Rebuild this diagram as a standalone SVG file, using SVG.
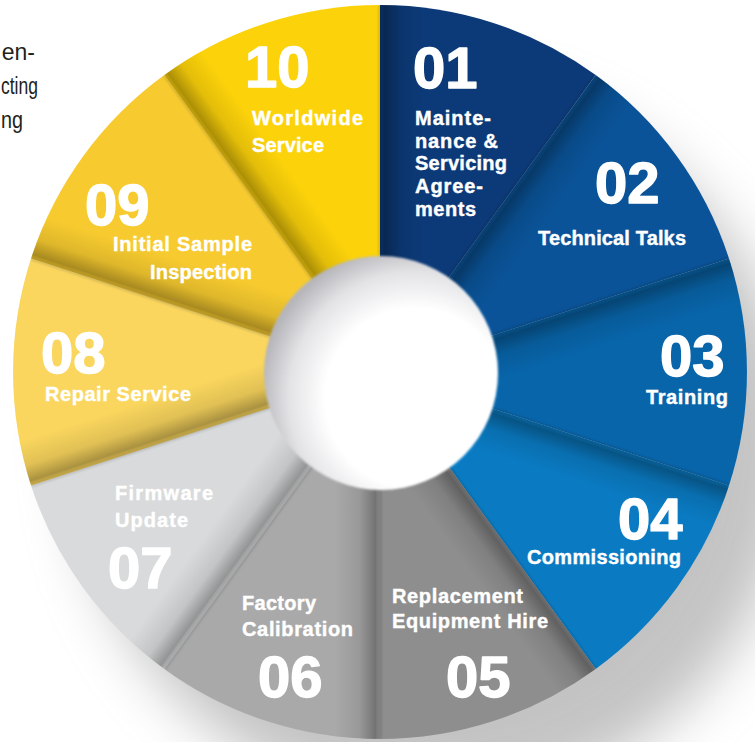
<svg xmlns="http://www.w3.org/2000/svg" xmlns:xlink="http://www.w3.org/1999/xlink" width="755" height="742" viewBox="0 0 755 742">
<style>
.num{font-family:"Liberation Sans",Arial,sans-serif;font-weight:bold;font-size:58px;fill:#ffffff;stroke:#ffffff;stroke-width:1.4;stroke-linejoin:round}
.lbl{font-family:"Liberation Sans",Arial,sans-serif;font-weight:bold;font-size:20px;fill:#ffffff;stroke:#ffffff;stroke-width:0.4}
.side{font-family:"Liberation Sans",Arial,sans-serif;font-size:23px;fill:#231f20}
.crease{stroke:#000;stroke-opacity:0.28;stroke-width:1.6;fill:none}
</style>
<defs>
<filter id="bigblur" x="-30%" y="-30%" width="160%" height="160%"><feGaussianBlur stdDeviation="28"/></filter>
<filter id="soft" x="-10%" y="-10%" width="120%" height="120%"><feGaussianBlur stdDeviation="1.2"/></filter>
<filter id="lineblur" x="-20%" y="-20%" width="140%" height="140%"><feGaussianBlur stdDeviation="1.5"/></filter>
<linearGradient id="shBase" gradientUnits="userSpaceOnUse">
<stop offset="0" stop-color="#000" stop-opacity="0.12"/>
<stop offset="0.1" stop-color="#000" stop-opacity="0.32"/>
<stop offset="0.45" stop-color="#000" stop-opacity="0.1"/>
<stop offset="1" stop-color="#000" stop-opacity="0"/>
</linearGradient>
<linearGradient id="sh01" href="#shBase" xlink:href="#shBase" x1="380" y1="372" x2="425" y2="372"/>
<linearGradient id="sh02" href="#shBase" xlink:href="#shBase" x1="380" y1="372" x2="416.4" y2="398.5"/>
<linearGradient id="sh03" href="#shBase" xlink:href="#shBase" x1="380" y1="372" x2="393.9" y2="414.8"/>
<linearGradient id="sh04" href="#shBase" xlink:href="#shBase" x1="380" y1="372" x2="366.1" y2="414.8"/>
<linearGradient id="sh05" href="#shBase" xlink:href="#shBase" x1="380" y1="372" x2="343.6" y2="398.5"/>
<linearGradient id="sh06" href="#shBase" xlink:href="#shBase" x1="380" y1="372" x2="335" y2="372"/>
<linearGradient id="sh07" href="#shBase" xlink:href="#shBase" x1="380" y1="372" x2="343.6" y2="345.5"/>
<linearGradient id="sh08" href="#shBase" xlink:href="#shBase" x1="380" y1="372" x2="366.1" y2="329.2"/>
<linearGradient id="sh09" href="#shBase" xlink:href="#shBase" x1="380" y1="372" x2="393.9" y2="329.2"/>
<linearGradient id="sh10" href="#shBase" xlink:href="#shBase" x1="380" y1="372" x2="416.4" y2="345.5"/>
<radialGradient id="holeGrad" gradientUnits="userSpaceOnUse" cx="415" cy="398" r="155">
<stop offset="0" stop-color="#ffffff"/>
<stop offset="0.58" stop-color="#ffffff"/>
<stop offset="0.82" stop-color="#e2e2e5"/>
<stop offset="1" stop-color="#b6b6bb"/>
</radialGradient>
<clipPath id="wheelClip"><circle cx="380" cy="372" r="367"/></clipPath>
</defs>

<rect width="755" height="742" fill="#ffffff"/>
<circle cx="435" cy="445" r="360" fill="#888888" opacity="0.5" filter="url(#bigblur)"/>

<g id="side-text">
<text class="side" x="35" y="60" text-anchor="end">en-</text>
<text class="side" x="1" y="94" textLength="37" lengthAdjust="spacingAndGlyphs">cting</text>
<text class="side" x="1" y="128" textLength="22" lengthAdjust="spacingAndGlyphs">ng</text>
</g>

<g id="seg01">
<path d="M380 372 L380 5 A367 367 0 0 1 595.7 75.1 Z" fill="#0c3a78"/>
<path d="M380 372 L380 5 A367 367 0 0 1 595.7 75.1 Z" fill="url(#sh01)"/>
</g>
<g id="seg02">
<path d="M380 372 L595.7 75.1 A367 367 0 0 1 729 258.6 Z" fill="#0a5398"/>
<path d="M380 372 L595.7 75.1 A367 367 0 0 1 729 258.6 Z" fill="url(#sh02)"/>
</g>
<g id="seg03">
<path d="M380 372 L729 258.6 A367 367 0 0 1 729 485.4 Z" fill="#0865aa"/>
<path d="M380 372 L729 258.6 A367 367 0 0 1 729 485.4 Z" fill="url(#sh03)"/>
</g>
<g id="seg04">
<path d="M380 372 L729 485.4 A367 367 0 0 1 595.7 668.9 Z" fill="#0a7bc3"/>
<path d="M380 372 L729 485.4 A367 367 0 0 1 595.7 668.9 Z" fill="url(#sh04)"/>
</g>
<g id="seg05">
<path d="M380 372 L595.7 668.9 A367 367 0 0 1 380 739 Z" fill="#8e8e8e"/>
<path d="M380 372 L595.7 668.9 A367 367 0 0 1 380 739 Z" fill="url(#sh05)"/>
</g>
<g id="seg06">
<path d="M380 372 L380 739 A367 367 0 0 1 164.3 668.9 Z" fill="#a9a9a9"/>
<path d="M380 372 L380 739 A367 367 0 0 1 164.3 668.9 Z" fill="url(#sh06)"/>
</g>
<g id="seg07">
<path d="M380 372 L164.3 668.9 A367 367 0 0 1 31 485.4 Z" fill="#d9dadb"/>
<path d="M380 372 L164.3 668.9 A367 367 0 0 1 31 485.4 Z" fill="url(#sh07)"/>
</g>
<g id="seg08">
<path d="M380 372 L31 485.4 A367 367 0 0 1 31 258.6 Z" fill="#fad65e"/>
<path d="M380 372 L31 485.4 A367 367 0 0 1 31 258.6 Z" fill="url(#sh08)"/>
</g>
<g id="seg09">
<path d="M380 372 L31 258.6 A367 367 0 0 1 164.3 75.1 Z" fill="#f7cb2f"/>
<path d="M380 372 L31 258.6 A367 367 0 0 1 164.3 75.1 Z" fill="url(#sh09)"/>
</g>
<g id="seg10">
<path d="M380 372 L164.3 75.1 A367 367 0 0 1 380 5 Z" fill="#fcd20a"/>
<path d="M380 372 L164.3 75.1 A367 367 0 0 1 380 5 Z" fill="url(#sh10)"/>
</g>

<g id="creases" clip-path="url(#wheelClip)" filter="url(#lineblur)">
<line class="crease" x1="380" y1="372" x2="380" y2="5"/>
<line class="crease" x1="380" y1="372" x2="595.7" y2="75.1"/>
<line class="crease" x1="380" y1="372" x2="729" y2="258.6"/>
<line class="crease" x1="380" y1="372" x2="729" y2="485.4"/>
<line class="crease" x1="380" y1="372" x2="595.7" y2="668.9"/>
<line class="crease" x1="380" y1="372" x2="380" y2="739"/>
<line class="crease" x1="380" y1="372" x2="164.3" y2="668.9"/>
<line class="crease" x1="380" y1="372" x2="31" y2="485.4"/>
<line class="crease" x1="380" y1="372" x2="31" y2="258.6"/>
<line class="crease" x1="380" y1="372" x2="164.3" y2="75.1"/>
</g>

<g id="hole">
<circle cx="381" cy="373" r="117" fill="url(#holeGrad)" filter="url(#soft)"/>
</g>

<g id="label01">
<text class="num" x="413" y="88">01</text>
<text class="lbl" x="415" y="125" textLength="76">Mainte-</text>
<text class="lbl" x="415" y="148" textLength="83">nance &amp;</text>
<text class="lbl" x="415" y="170" textLength="92">Servicing</text>
<text class="lbl" x="415" y="193" textLength="68">Agree-</text>
<text class="lbl" x="415" y="216" textLength="61">ments</text>
</g>
<g id="label02">
<text class="num" x="595" y="203">02</text>
<text class="lbl" x="538" y="245" textLength="148">Technical Talks</text>
</g>
<g id="label03">
<text class="num" x="660" y="376">03</text>
<text class="lbl" x="646" y="404" textLength="82">Training</text>
</g>
<g id="label04">
<text class="num" x="618" y="539">04</text>
<text class="lbl" x="527" y="564" textLength="154">Commissioning</text>
</g>
<g id="label05">
<text class="lbl" x="392" y="603" textLength="131">Replacement</text>
<text class="lbl" x="392" y="628" textLength="156">Equipment Hire</text>
<text class="num" x="446" y="697">05</text>
</g>
<g id="label06">
<text class="lbl" x="242" y="610" textLength="74">Factory</text>
<text class="lbl" x="242" y="636" textLength="111">Calibration</text>
<text class="num" x="258" y="697">06</text>
</g>
<g id="label07">
<text class="lbl" x="115" y="500" textLength="98">Firmware</text>
<text class="lbl" x="115" y="527" textLength="73">Update</text>
<text class="num" x="108" y="588">07</text>
</g>
<g id="label08">
<text class="num" x="41" y="373">08</text>
<text class="lbl" x="45" y="401" textLength="146">Repair Service</text>
</g>
<g id="label09">
<text class="num" x="85" y="225">09</text>
<text class="lbl" x="113" y="251" textLength="139">Initial Sample</text>
<text class="lbl" x="150" y="279" textLength="102">Inspection</text>
</g>
<g id="label10">
<text class="num" x="245" y="87">10</text>
<text class="lbl" x="252" y="125" textLength="111">Worldwide</text>
<text class="lbl" x="252" y="152" textLength="72">Service</text>
</g>
</svg>
